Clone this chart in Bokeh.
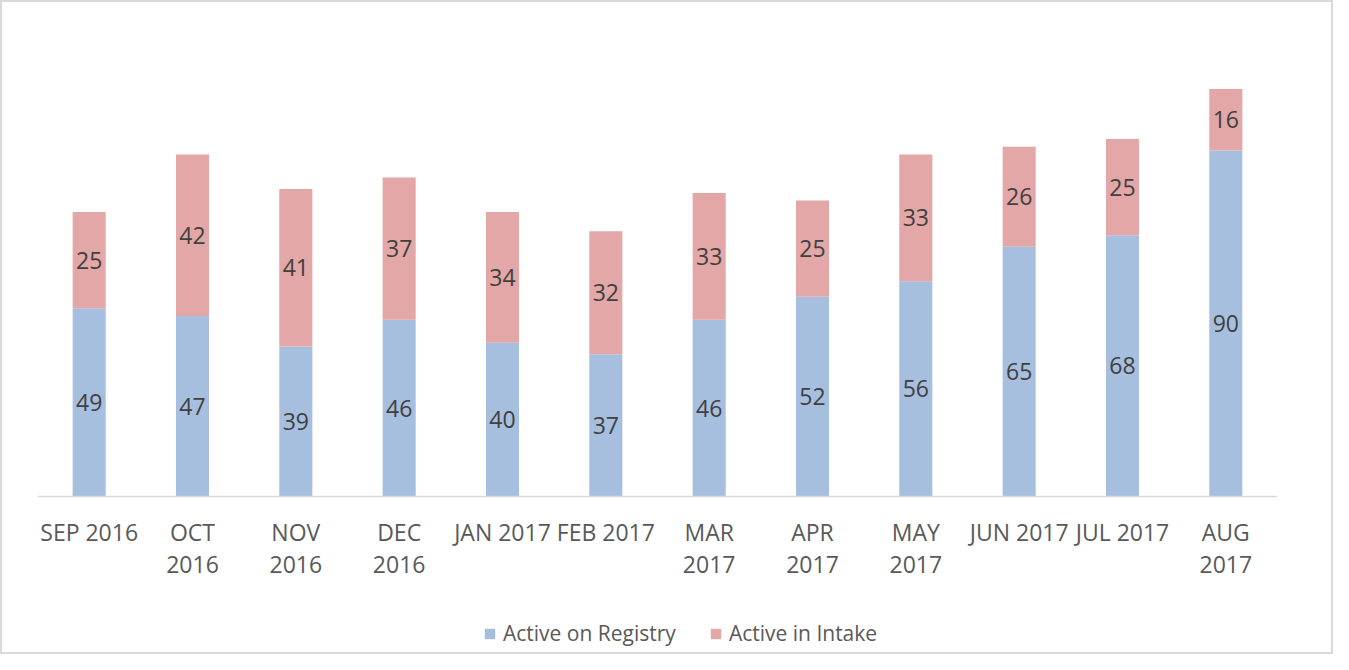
from bokeh.plotting import figure
from bokeh.models import ColumnDataSource, Range1d, Legend, LegendItem, Span
from bokeh.embed import file_html
from bokeh.resources import INLINE
from bokeh.core.properties import value

months = ["SEP 2016", "OCT 2016", "NOV 2016", "DEC 2016", "JAN 2017", "FEB 2017",
          "MAR 2017", "APR 2017", "MAY 2017", "JUN 2017", "JUL 2017", "AUG 2017"]
tick_labels = ["SEP 2016", "OCT\n2016", "NOV\n2016", "DEC\n2016", "JAN 2017", "FEB 2017",
               "MAR\n2017", "APR\n2017", "MAY\n2017", "JUN 2017", "JUL 2017", "AUG\n2017"]
registry = [49, 47, 39, 46, 40, 37, 46, 52, 56, 65, 68, 90]
intake = [25, 42, 41, 37, 34, 32, 33, 25, 33, 26, 25, 16]

BLUE = "#A7BFDE"
RED = "#E2A7A6"
FONT = "Open Sans"

PX_PER_UNIT = 3.82
H = 654
H_EFF = 650          # canvas height inside the 2px border
ZERO_FROM_TOP = 491  # pixels from top of canvas to y=0

src = ColumnDataSource(dict(
    x=months, registry=registry, intake=intake,
    reg_mid=[r / 2 for r in registry],
    int_mid=[r + i / 2 for r, i in zip(registry, intake)],
    reg_lbl=[str(v) for v in registry],
    int_lbl=[str(v) for v in intake],
    tick=tick_labels,
    tick_y=[-19 / PX_PER_UNIT] * len(months),
))

p = figure(x_range=months, width=1333, height=H, output_backend="svg",
           toolbar_location=None, min_border_left=35, min_border_right=58,
           min_border_top=0, min_border_bottom=0)
p.y_range = Range1d(-(H_EFF - ZERO_FROM_TOP) / PX_PER_UNIT, ZERO_FROM_TOP / PX_PER_UNIT)
p.styles = {"border": "2px solid #d9d9d9", "box-sizing": "border-box"}

r = p.vbar_stack(["registry", "intake"], x="x", width=0.32, color=[BLUE, RED],
                 source=src, line_color=None)

p.add_layout(Span(location=0, dimension="width", line_color="#d9d9d9", line_width=1.5))

p.text(x="x", y="reg_mid", text="reg_lbl", source=src, text_align="center",
       text_baseline="middle", text_font=value(FONT), text_font_size="23px",
       text_color="#404040")
p.text(x="x", y="int_mid", text="int_lbl", source=src, text_align="center",
       text_baseline="middle", text_font=value(FONT), text_font_size="23px",
       text_color="#404040")
p.text(x="x", y="tick_y", text="tick", source=src, text_align="center",
       text_baseline="top", text_font=value(FONT), text_font_size="23px",
       text_color="#595959", text_line_height=1.02)

p.xaxis.visible = False
p.yaxis.visible = False
p.xgrid.visible = False
p.ygrid.visible = False
p.outline_line_color = None
p.x_range.range_padding = 0

legend = Legend(items=[LegendItem(label="Active on Registry", renderers=[r[0]]),
                       LegendItem(label="Active in Intake", renderers=[r[1]])],
                orientation="horizontal", location=(446, 9))
legend.label_text_font = FONT
legend.label_text_font_size = "21px"
legend.label_text_color = "#595959"
legend.glyph_width = 13
legend.glyph_height = 13
legend.label_standoff = 7
legend.spacing = 33
legend.border_line_color = None
legend.background_fill_alpha = 0
legend.margin = 0
legend.padding = 0
p.add_layout(legend)

open("out.html", "w").write(file_html(p, INLINE))
